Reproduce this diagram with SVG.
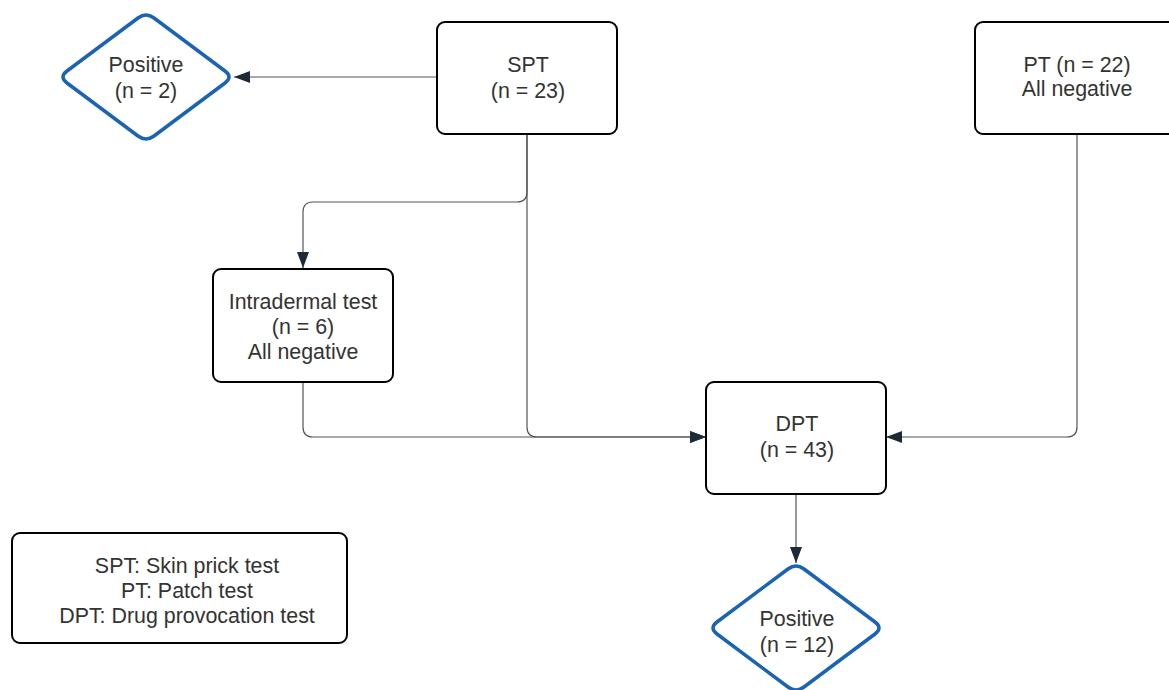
<svg xmlns="http://www.w3.org/2000/svg" width="1169" height="690" viewBox="0 0 1169 690">
<style>
.box{fill:#fff;stroke:#000;stroke-width:2}
.dia{fill:#fff;stroke:#1b63b3;stroke-width:3.5}
.t{font-family:"Liberation Sans",Arial,Helvetica,sans-serif;font-size:21.4px;fill:#333;text-anchor:middle}
.c{fill:none;stroke:#555;stroke-width:1.2}
</style>
<defs>
<marker id="ah" markerUnits="userSpaceOnUse" markerWidth="17" markerHeight="13" refX="16" refY="6" orient="auto">
<path d="M0,0 L16,6 L0,12 Z" fill="#1f2a38"/>
</marker>
<path id="dpath" d="M8,-59 L79,-6 Q87,0 79,6 L8,59 Q0,65 -8,59 L-79,6 Q-87,0 -79,-6 L-8,-59 Q0,-65 8,-59 Z"/>
</defs>
<rect width="1169" height="690" fill="#fff"/>
<g id="connectors">
<path class="c" d="M437,77 H234" marker-end="url(#ah)"/>
<path class="c" d="M527,134 V192 Q527,202 517,202 H313 Q303,202 303,212 V268" marker-end="url(#ah)"/>
<path class="c" d="M527,134 V427 Q527,437 537,437 H706" marker-end="url(#ah)"/>
<path class="c" d="M303,382 V427 Q303,437 313,437 H706" marker-end="url(#ah)"/>
<path class="c" d="M1077,134 V427 Q1077,437 1067,437 H886" marker-end="url(#ah)"/>
<path class="c" d="M796,494 V563" marker-end="url(#ah)"/>
</g>
<g id="positive2">
<use href="#dpath" class="dia" transform="translate(146,77)"/>
<text class="t" x="146" y="72">Positive</text>
<text class="t" x="146" y="98">(n = 2)</text>
</g>
<g id="spt">
<rect class="box" x="437" y="22" width="180" height="112" rx="8"/>
<text class="t" x="528" y="72">SPT</text>
<text class="t" x="528" y="98">(n = 23)</text>
</g>
<g id="pt">
<rect class="box" x="975" y="22" width="204" height="112" rx="8"/>
<text class="t" x="1077" y="72">PT (n = 22)</text>
<text class="t" x="1077" y="96">All negative</text>
</g>
<g id="intradermal">
<rect class="box" x="213" y="269" width="180" height="113" rx="8"/>
<text class="t" x="303" y="309">Intradermal test</text>
<text class="t" x="303" y="334">(n = 6)</text>
<text class="t" x="303" y="359">All negative</text>
</g>
<g id="dpt">
<rect class="box" x="706" y="382" width="180" height="112" rx="8"/>
<text class="t" x="797" y="431">DPT</text>
<text class="t" x="797" y="457">(n = 43)</text>
</g>
<g id="positive12">
<use href="#dpath" class="dia" transform="translate(796,628)"/>
<text class="t" x="797" y="626">Positive</text>
<text class="t" x="797" y="652">(n = 12)</text>
</g>
<g id="legend">
<rect class="box" x="12" y="533" width="335" height="110" rx="8"/>
<text class="t" x="187" y="573">SPT: Skin prick test</text>
<text class="t" x="187" y="598">PT: Patch test</text>
<text class="t" x="187" y="623">DPT: Drug provocation test</text>
</g>
</svg>
